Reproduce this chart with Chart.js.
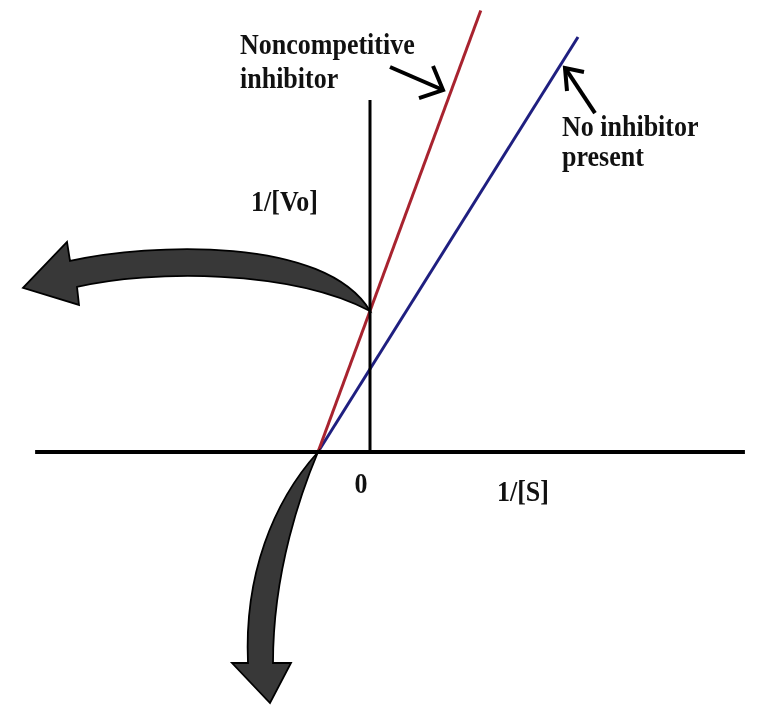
<!DOCTYPE html>
<html>
<head>
<meta charset="utf-8">
<script src="https://cdn.jsdelivr.net/npm/chart.js@4"></script>
<style>
    html, body { margin: 0; padding: 0; background: #fff; }
    canvas { display: block; }
</style>
</head>
<body>
<canvas id="grafico" width="758" height="706"></canvas>
<script>
// Datos del gráfico (Lineweaver-Burk)
const invSNoInhibitor = [-1, 4.0];
const invVNoInhibitor = [0, 5.0];
const invSNoncompetitive = [-1, 2.13];
const invVNoncompetitive = [0, 5.32];

// Ejes dibujados como lineas
const xAxisExtent = [-6.44, 7.21];
const yAxisExtent = [0, 4.24];

// Etiquetas
const labelTexts = ['Noncompetitive', 'inhibitor', 'No inhibitor', 'present', '1/[Vo]', '0', '1/[S]'];

// Posiciones de etiquetas en unidades de datos
const labelPos = [
    { x: -2.5, y: 4.795, align: 'left' },
    { x: -2.5, y: 4.386, align: 'left' },
    { x: 3.692, y: 3.807, align: 'left' },
    { x: 3.692, y: 3.446, align: 'left' },
    { x: -1.0, y: 2.904, align: 'right' },
    { x: -0.173, y: -0.494, align: 'center' },
    { x: 2.442, y: -0.59, align: 'left' }
];

function toPoints(xs, ys) {
    return xs.map((x, i) => ({ x: x, y: ys[i] }));
}

// Valor de la recta en x = 0
function interceptAt0(xs, ys) {
    const m = (ys[1] - ys[0]) / (xs[1] - xs[0]);
    return ys[0] + m * (0 - xs[0]);
}

// Flechas grandes curvas (forma en px relativa al punto de anclaje)
const bigArrows = [
    {
        anchor: { x: 0, y: interceptAt0(invSNoncompetitive, invVNoncompetitive) },
        edgeA: [[-45, -75], [-220, -68], [-300, -50]],
        cornerA: [-303, -69], tip: [-347, -23], cornerB: [-291, -6],
        edgeB: [[-80, -42], [-220, -41], [-293, -24]]
    },
    {
        anchor: { x: invSNoInhibitor[0], y: invVNoInhibitor[0] },
        edgeA: [[-45, 50], [-74, 123], [-70, 211]],
        cornerA: [-86, 211], tip: [-48, 251], cornerB: [-27, 211],
        edgeB: [[-16, 38], [-45, 118], [-45, 211]]
    }
];

// Flechas pequeñas
const smallArrows = [
    { tail: { x: 0.385, y: 4.639 }, tip: { x: 1.404, y: 4.361 }, wings: [[-10, -24], [-24, 8]] },
    { tail: { x: 4.327, y: 4.084 }, tip: { x: 3.75, y: 4.627 }, wings: [[19, 4], [2, 23]] }
];

const annotPlugin = {
    id: 'annot',
    afterDatasetsDraw(chart) {
        const ctx = chart.ctx;
        const sx = chart.scales.x;
        const sy = chart.scales.y;
        const px = p => [sx.getPixelForValue(p.x), sy.getPixelForValue(p.y)];

        // flechas grandes
        bigArrows.forEach(a => {
            const [ax, ay] = px(a.anchor);
            const P = q => [ax + q[0], ay + q[1]];
            ctx.save();
            ctx.beginPath();
            ctx.moveTo(ax, ay);
            const A = a.edgeA.map(P);
            ctx.bezierCurveTo(A[0][0], A[0][1], A[1][0], A[1][1], A[2][0], A[2][1]);
            ctx.lineTo(...P(a.cornerA));
            ctx.lineTo(...P(a.tip));
            ctx.lineTo(...P(a.cornerB));
            const B = a.edgeB.map(P);
            ctx.lineTo(B[2][0], B[2][1]);
            ctx.bezierCurveTo(B[1][0], B[1][1], B[0][0], B[0][1], ax, ay);
            ctx.closePath();
            ctx.fillStyle = '#383838';
            ctx.fill();
            ctx.lineWidth = 1.8;
            ctx.lineJoin = 'miter';
            ctx.strokeStyle = '#000';
            ctx.stroke();
            ctx.restore();
        });

        // flechas pequeñas
        smallArrows.forEach(a => {
            const [tx, ty] = px(a.tail);
            const [hx, hy] = px(a.tip);
            ctx.save();
            ctx.strokeStyle = '#000';
            ctx.lineWidth = 4;
            ctx.beginPath();
            ctx.moveTo(tx, ty);
            ctx.lineTo(hx, hy);
            ctx.stroke();
            ctx.beginPath();
            ctx.moveTo(hx + a.wings[0][0], hy + a.wings[0][1]);
            ctx.lineTo(hx, hy);
            ctx.lineTo(hx + a.wings[1][0], hy + a.wings[1][1]);
            ctx.stroke();
            ctx.restore();
        });

        // textos (ligeramente estirados en vertical como en la imagen)
        ctx.save();
        ctx.fillStyle = '#111';
        ctx.font = 'bold 26px "Liberation Serif", "Times New Roman", serif';
        ctx.textBaseline = 'alphabetic';
        labelTexts.forEach((t, i) => {
            const [x, y] = px(labelPos[i]);
            ctx.save();
            ctx.translate(x, y);
            ctx.scale(1, 1.15);
            ctx.textAlign = labelPos[i].align;
            ctx.fillText(t, 0, 0);
            ctx.restore();
        });
        ctx.restore();
    }
};

const ctx = document.getElementById('grafico').getContext('2d');
const chart = new Chart(ctx, {
    type: 'line',
    data: {
        datasets: [
            {
                label: 'eje x',
                data: toPoints(xAxisExtent, [0, 0]),
                borderColor: '#000',
                borderWidth: 4
            },
            {
                label: 'eje y',
                data: toPoints([0, 0], yAxisExtent),
                borderColor: '#000',
                borderWidth: 3
            },
            {
                label: 'Noncompetitive inhibitor',
                data: toPoints(invSNoncompetitive, invVNoncompetitive),
                borderColor: '#a8232f',
                borderWidth: 3
            },
            {
                label: 'No inhibitor present',
                data: toPoints(invSNoInhibitor, invVNoInhibitor),
                borderColor: '#1f1f80',
                borderWidth: 3
            }
        ]
    },
    options: {
        responsive: false,
        animation: false,
        devicePixelRatio: 1,
        layout: { padding: 0 },
        elements: { point: { radius: 0 }, line: { tension: 0 } },
        scales: {
            x: { type: 'linear', min: -370 / 52, max: 388 / 52, display: false },
            y: { type: 'linear', min: -254 / 83, max: 452 / 83, display: false }
        },
        plugins: {
            legend: { display: false },
            tooltip: { enabled: false }
        }
    },
    plugins: [annotPlugin]
});
</script>
</body>
</html>
